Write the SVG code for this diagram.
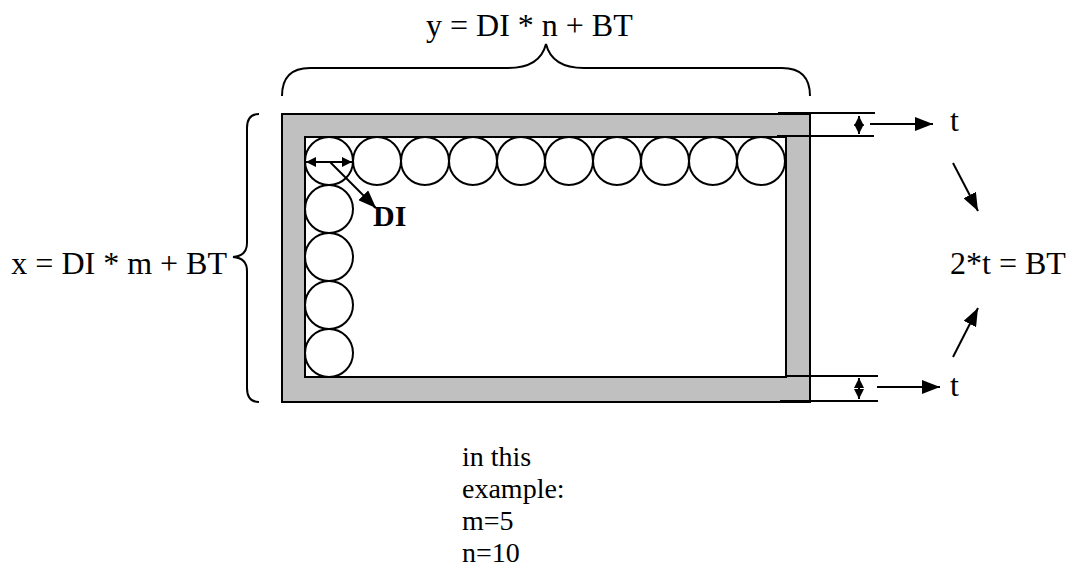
<svg xmlns="http://www.w3.org/2000/svg" width="1071" height="583" viewBox="0 0 1071 583">
<style>
.t{font-family:"Liberation Serif","Times New Roman",serif;font-size:32px;fill:#000}
.s{font-family:"Liberation Serif","Times New Roman",serif;font-size:28px;fill:#000}
.b{font-family:"Liberation Serif","Times New Roman",serif;font-size:30px;font-weight:bold;fill:#000}
.ln{stroke:#000;stroke-width:2;fill:none}
.c{stroke:#000;stroke-width:2;fill:#fff}
</style>
<defs>
<marker id="ah" viewBox="0 0 10 10" refX="10" refY="5" markerWidth="10" markerHeight="10" markerUnits="userSpaceOnUse" orient="auto-start-reverse">
<path d="M0,0 L10,5 L0,10 z" fill="#000"/>
</marker>
<marker id="big" viewBox="0 0 10 10" refX="10" refY="5" markerWidth="18" markerHeight="14" markerUnits="userSpaceOnUse" orient="auto" preserveAspectRatio="none">
<path d="M0,0 L10,5 L0,10 z" fill="#000"/>
</marker>
</defs>
<g id="frame">
<rect x="282" y="114" width="528" height="288" fill="#c0c0c0" stroke="#000" stroke-width="2"/>
<rect x="305" y="137" width="481" height="240" fill="#fff" stroke="#000" stroke-width="2"/>
</g>
<g id="circles">
<circle class="c" cx="329" cy="161" r="24"/>
<circle class="c" cx="377" cy="161" r="24"/>
<circle class="c" cx="425" cy="161" r="24"/>
<circle class="c" cx="473" cy="161" r="24"/>
<circle class="c" cx="521" cy="161" r="24"/>
<circle class="c" cx="569" cy="161" r="24"/>
<circle class="c" cx="617" cy="161" r="24"/>
<circle class="c" cx="665" cy="161" r="24"/>
<circle class="c" cx="713" cy="161" r="24"/>
<circle class="c" cx="761" cy="161" r="24"/>
<circle class="c" cx="329" cy="209" r="24"/>
<circle class="c" cx="329" cy="257" r="24"/>
<circle class="c" cx="329" cy="305" r="24"/>
<circle class="c" cx="329" cy="353" r="24"/>
</g>
<g id="braces">
<path class="ln" d="M282,96 Q282,68 310,68 L508,68 Q540,68 546,44 Q552,68 584,68 L782,68 Q810,68 810,96"/>
<path class="ln" d="M259,114 Q247,114 247,128 L247,243 Q247,256 233,257 Q247,258 247,271 L247,388 Q247,402 259,402"/>
</g>
<g id="connectors">
<line class="ln" x1="778" y1="113" x2="875" y2="113"/>
<line class="ln" x1="777" y1="136" x2="874" y2="136"/>
<line class="ln" x1="786" y1="376" x2="878" y2="376"/>
<line class="ln" x1="780" y1="401" x2="878" y2="401"/>
<line class="ln" x1="859" y1="116" x2="859" y2="134" marker-start="url(#ah)" marker-end="url(#ah)"/>
<line class="ln" x1="859" y1="378" x2="859" y2="399" marker-start="url(#ah)" marker-end="url(#ah)"/>
<line class="ln" x1="870" y1="124" x2="933" y2="124" marker-end="url(#big)"/>
<line class="ln" x1="877" y1="387" x2="940" y2="387" marker-end="url(#big)"/>
<line class="ln" x1="953" y1="163" x2="978" y2="211" marker-end="url(#big)"/>
<line class="ln" x1="953" y1="357" x2="978" y2="308" marker-end="url(#big)"/>
<line class="ln" x1="306" y1="162" x2="352" y2="162" marker-start="url(#ah)" marker-end="url(#ah)"/>
<line class="ln" x1="330" y1="162" x2="376" y2="208" marker-end="url(#big)"/>
</g>
<g id="labels">
<text class="t" x="426" y="36">y = DI * n + BT</text>
<text class="t" x="227" y="274" text-anchor="end">x = DI * m + BT</text>
<text class="t" x="950" y="131">t</text>
<text class="t" x="950" y="274">2*t = BT</text>
<text class="t" x="950" y="396">t</text>
<text class="b" x="373" y="226">DI</text>
<text class="s" x="462" y="466">in this<tspan x="462" dy="32">example:</tspan><tspan x="462" dy="32">m=5</tspan><tspan x="462" dy="32">n=10</tspan></text>
</g>
</svg>
